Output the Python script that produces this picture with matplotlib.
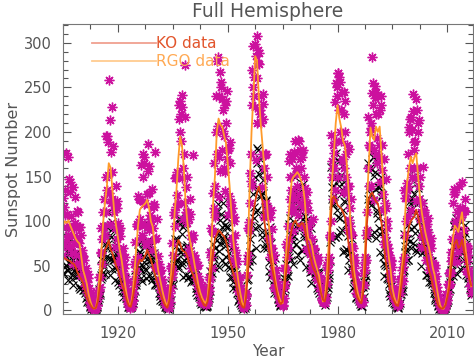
import matplotlib.pyplot as plt
from matplotlib.lines import Line2D
import numpy as np

# years covered by the record (1905 ... 2016)
years = np.arange(1905, 2017)

# smoothed RGO sunspot number, two values per year (start, middle)
rgo_smooth = [
    95, 100, 98, 101, 95, 90, 85, 80, 77, 75,
    60, 45, 38, 30, 18, 10, 4, 2, 3, 15,
    40, 68, 100, 122, 140, 165, 160, 135, 110, 95,
    82, 68, 57, 42, 28, 15, 7, 5, 18, 42,
    68, 95, 113, 116, 118, 120, 124, 115, 100, 94,
    75, 60, 45, 35, 25, 16, 9, 4, 15, 40,
    68, 110, 135, 170, 195, 185, 160, 120, 98, 82,
    72, 62, 50, 40, 28, 20, 14, 10, 8, 15,
    40, 68, 120, 150, 200, 215, 208, 206, 196, 188,
    165, 140, 110, 80, 60, 45, 30, 18, 8, 4,
    25, 68, 140, 200, 240, 285, 280, 240, 210, 185,
    161, 130, 105, 85, 65, 50, 35, 23, 15, 10,
    8, 35, 68, 100, 125, 146, 150, 152, 155, 152,
    146, 140, 125, 98, 80, 79, 72, 60, 52, 45,
    38, 20, 10, 12, 35, 68, 110, 145, 176, 210,
    230, 215, 205, 190, 185, 165, 135, 100, 72, 45,
    31, 20, 12, 10, 30, 68, 120, 161, 205, 195,
    191, 206, 200, 206, 175, 140, 110, 80, 60, 45,
    25, 15, 9, 8, 25, 45, 65, 110, 143, 160,
    172, 165, 172, 176, 150, 128, 110, 98, 87, 78,
    70, 60, 48, 40, 28, 16, 6, 2, 2, 8,
    18, 31, 60, 80, 95, 92, 88, 100, 110, 90,
    68, 52, 38, 27,
]

# smoothed KO sunspot number, two values per year
ko_smooth = [
    60, 58, 57, 56, 55, 53, 52, 48, 42, 38,
    35, 30, 22, 15, 10, 6, 3, 2, 3, 10,
    25, 40, 55, 68, 72, 79, 68, 64, 57, 50,
    45, 38, 30, 25, 18, 10, 5, 4, 12, 25,
    40, 52, 57, 55, 58, 62, 68, 62, 57, 50,
    42, 35, 28, 20, 14, 9, 5, 3, 10, 25,
    40, 55, 68, 79, 75, 68, 66, 65, 60, 52,
    45, 40, 35, 28, 20, 14, 10, 6, 5, 10,
    25, 45, 65, 80, 85, 90, 88, 85, 83, 78,
    70, 57, 50, 42, 35, 25, 15, 8, 4, 3,
    15, 40, 70, 95, 110, 122, 132, 139, 130, 122,
    100, 85, 72, 62, 50, 40, 28, 18, 10, 7,
    10, 25, 45, 65, 80, 92, 98, 101, 96, 94,
    97, 98, 92, 82, 70, 62, 52, 46, 42, 35,
    28, 19, 12, 10, 20, 40, 90, 125, 128, 124,
    118, 116, 114, 110, 105, 90, 75, 60, 45, 32,
    20, 14, 10, 8, 20, 45, 95, 124, 130, 132,
    126, 122, 120, 110, 98, 80, 60, 45, 30, 20,
    14, 10, 6, 5, 14, 30, 50, 65, 80, 94,
    100, 103, 105, 113, 105, 95, 85, 75, 68, 55,
    45, 38, 28, 20, 12, 6, 3, 2, 3, 6,
    15, 25, 45, 65, 75, 79, 70, 72, 79, 68,
    57, 45, 35, 28,
]

# RGO individual values, four per year, first set (one group per year)
rgo_points = [
    126, 73, 107, 176,   80, 172, 95, 144,   106, 64, 138, 83,   74, 98, 62, 111,
    110, 76, 49, 84,     68, 39, 57, 44,     27, 48, 32, 41,     16, 10, 21, 13,
    4, 1, 6, 2,          3, 6, 14, 22,       38, 64, 52, 95,     125, 85, 150, 110,
    135, 189, 258, 213,  178, 125, 184, 118, 92, 140, 80, 115,   98, 56, 83, 64,
    40, 70, 48, 60,      25, 15, 33, 20,     5, 3, 9, 4,         12, 28, 35, 58,
    95, 60, 125, 96,     103, 163, 85, 150,  172, 120, 77, 131,  156, 90, 162, 102,
    78, 136, 92, 116,    178, 48, 102, 61,   52, 30, 44, 34,     16, 28, 19, 24,
    7, 4, 9, 3,          10, 25, 48, 38,     62, 110, 95, 150,   155, 120, 215, 200,
    220, 241, 228, 160,  175, 275, 110, 150, 110, 70, 125, 84,   80, 55, 174, 62,
    58, 38, 50, 33,      20, 32, 22, 27,     14, 8, 18, 10,      6, 9, 14, 22,
    35, 60, 48, 88,      110, 165, 140, 200, 175, 284, 240, 267, 256, 180, 225, 160,
    230, 155, 210, 170,  180, 128, 165, 110, 115, 75, 100, 68,   62, 40, 55, 36,
    28, 18, 25, 14,      5, 3, 8, 6,         18, 40, 62, 90,     120, 175, 230, 250,
    240, 299, 285, 260,  308, 277, 288, 220, 240, 175, 215, 160, 175, 120, 150, 110,
    110, 80, 105, 70,    70, 45, 62, 40,     35, 22, 30, 18,     14, 8, 12, 9,
    6, 14, 30, 45,       60, 95, 80, 125,    150, 110, 170, 130,  178, 125, 160, 140,
    191, 130, 170, 120,  160, 178, 115, 150, 130, 90, 120, 85,   95, 65, 100, 70,
    80, 52, 70, 50,      55, 38, 60, 40,     35, 22, 18, 12,     9, 14, 8, 15,
    30, 45, 60, 85,      100, 150, 125, 185, 160, 234, 190, 240, 266, 225, 256, 190,
    245, 170, 220, 160,  200, 150, 185, 140, 140, 95, 125, 85,   70, 48, 60, 40,
    32, 20, 26, 16,      12, 8, 14, 10,      28, 45, 60, 85,     110, 160, 140, 200,
    210, 284, 230, 180,  251, 175, 220, 165, 240, 185, 225, 170, 185, 130, 170, 120,
    115, 75, 100, 65,    62, 42, 55, 35,     25, 15, 20, 12,     8, 5, 11, 7,
    20, 30, 45, 55,      60, 85, 100, 135,   140, 175, 206, 160, 217, 150, 243, 180,
    190, 237, 160, 200,  213, 125, 150, 110, 120, 85, 110, 80,   95, 68, 88, 60,
    75, 52, 70, 48,      52, 35, 48, 30,     26, 18, 14, 10,     5, 2, 3, 1,
    2, 4, 7, 12,         18, 28, 30, 42,     55, 80, 120, 136,   100, 75, 110, 85,
    85, 105, 78, 115,    144, 110, 90, 125,  70, 55, 62, 45,     38, 28, 30, 22,
]

# RGO individual values, second set (in between the first)
rgo_points_b = [
    62, 116, 135, 94,    108, 85, 71, 147,   133, 92, 72, 52,    64, 127, 92, 78,
    77, 53, 94, 94,      39, 62, 61, 39,     42, 29, 21, 36,     25, 14, 8, 4,
    3, 5, 2, 2,          3, 6, 19, 38,       26, 65, 92, 80,     110, 94, 85, 196,
    196, 152, 132, 97,   120, 228, 155, 122, 110, 71, 119, 123,  53, 90, 92, 59,
    63, 42, 29, 52,      39, 21, 12, 7,      5, 9, 6, 11,        18, 21, 52, 77,
    44, 97, 128, 99,     124, 97, 81, 175,   165, 119, 96, 73,   93, 186, 132, 107,
    100, 68, 117, 119,   49, 80, 81, 49,     50, 34, 24, 45,     35, 20, 13, 7,
    7, 9, 5, 10,         15, 19, 50, 76,     44, 107, 148, 116,  148, 129, 119, 230,
    235, 190, 148, 103,  120, 217, 138, 109, 98, 63, 102, 108,   47, 80, 84, 53,
    55, 38, 28, 51,      39, 24, 16, 10,     10, 19, 12, 9,      8, 8, 19, 38,
    26, 65, 92, 89,      132, 115, 105, 240, 280, 207, 172, 127, 156, 250, 237, 201,
    196, 134, 235, 246,  107, 182, 189, 119, 121, 81, 56, 105,   84, 52, 36, 22,
    22, 37, 21, 13,      8, 4, 5, 20,        16, 55, 92, 99,     154, 145, 140, 270,
    296, 262, 228, 169,  210, 292, 276, 225, 210, 138, 231, 242, 105, 174, 175, 111,
    115, 81, 60, 112,    91, 57, 40, 25,     26, 45, 26, 19,     15, 8, 12, 13,
    5, 25, 47, 48,       75, 71, 70, 168,    175, 135, 117, 89,  112, 190, 175, 153,
    155, 107, 190, 180,  95, 172, 180, 125,  137, 94, 69, 133,   112, 79, 63, 45,
    54, 102, 69, 56,     52, 34, 56, 57,     25, 35, 27, 14,     11, 9, 8, 35,
    49, 51, 54, 53,      82, 197, 167, 160,  176, 135, 255, 250, 150, 266, 262, 200,
    225, 167, 133, 245,  235, 175, 132, 90,  101, 181, 115, 86,  72, 41, 56, 53,
    20, 30, 27, 15,      13, 9, 7, 30,       42, 49, 54, 56,     90, 217, 185, 183,
    205, 140, 244, 255,  124, 238, 245, 193, 220, 173, 144, 240, 230, 157, 112, 75,
    82, 147, 92, 70,     60, 36, 56, 49,     16, 24, 20, 11,     10, 7, 6, 24,
    35, 35, 36, 33,      49, 135, 126, 126,  143, 106, 200, 215, 112, 202, 223, 160,
    189, 148, 123, 225,  210, 139, 102, 71,  82, 161, 113, 92,   87, 57, 97, 104,
    45, 78, 81, 51,      53, 37, 28, 51,     39, 22, 13, 7,      4, 6, 2, 2,
    2, 4, 10, 18,        12, 30, 42, 43,     66, 60, 56, 130,    133, 93, 74, 54,
    66, 140, 115, 105,   110, 70, 112, 111,  44, 72, 70, 43,     42, 27, 19, 40,
]

# KO individual values, four per year, first set
ko_points = [
    74, 41, 62, 50,      45, 76, 53, 64,     59, 35, 76, 49,     45, 60, 38, 65,
    58, 40, 24, 44,      41, 23, 35, 28,     20, 24, 15, 12,     10, 5, 11, 6,
    3, 1, 4, 2,          2, 5, 9, 14,        20, 35, 38, 52,     55, 75, 60, 85,
    70, 110, 95, 85,     82, 46, 92, 60,     48, 73, 51, 62,     48, 28, 58, 38,
    25, 34, 21, 36,      20, 14, 8, 15,      5, 3, 4, 6,         8, 15, 22, 32,
    38, 55, 48, 66,      62, 36, 78, 50,     54, 72, 45, 78,     94, 65, 39, 72,
    68, 38, 57, 46,      30, 51, 36, 44,     26, 16, 34, 22,     11, 14, 9, 15,
    6, 4, 2, 4,          8, 12, 25, 32,      38, 60, 52, 72,     80, 50, 101, 65,
    65, 86, 54, 94,      96, 66, 40, 73,     70, 39, 59, 48,     34, 58, 41, 49,
    35, 21, 45, 29,      15, 20, 13, 22,     12, 8, 5, 9,        4, 6, 10, 14,
    22, 38, 42, 60,      62, 88, 70, 105,    79, 119, 84, 101,   108, 56, 120, 77,
    72, 96, 60, 104,     93, 64, 38, 70,     58, 32, 48, 39,     24, 41, 29, 35,
    13, 8, 17, 11,       4, 5, 3, 5,         10, 22, 35, 55,     65, 100, 88, 130,
    104, 150, 110, 165,  182, 135, 95, 170,  158, 88, 132, 107,  74, 124, 87, 106,
    74, 44, 94, 60,      41, 54, 34, 59,     33, 23, 14, 25,     10, 6, 9, 7,
    6, 14, 24, 35,       40, 62, 60, 85,     94, 56, 120, 77,    90, 120, 75, 130,
    138, 95, 57, 105,    121, 68, 102, 82,   70, 117, 83, 100,   73, 43, 92, 59,
    44, 59, 37, 64,      55, 38, 23, 42,     30, 17, 25, 20,     9, 15, 10, 13,
    15, 25, 40, 55,      80, 125, 118, 150,  139, 82, 176, 113,  105, 140, 88, 152,
    162, 112, 67, 123,   122, 69, 103, 83,   56, 95, 66, 80,     46, 27, 59, 38,
    15, 20, 13, 22,      13, 9, 5, 10,       15, 28, 40, 58,     85, 125, 120, 160,
    118, 177, 124, 151,  136, 81, 174, 112,  104, 138, 86, 150,  129, 89, 53, 98,
    65, 36, 55, 44,      20, 34, 24, 29,     13, 8, 17, 11,      5, 6, 4, 6,
    8, 18, 26, 38,       45, 65, 55, 80,     96, 57, 122, 78,    91, 121, 76, 131,
    158, 109, 65, 120,   125, 70, 105, 85,   64, 108, 76, 92,    68, 40, 87, 56,
    38, 50, 32, 55,      35, 24, 14, 26,     11, 6, 9, 8,        2, 4, 3, 2,
    2, 3, 6, 9,          12, 22, 24, 35,     45, 60, 72, 95,     62, 104, 73, 89,
    78, 46, 99, 64,      67, 89, 56, 96,     74, 51, 31, 56,     40, 22, 34, 27,
]

# KO individual values, second set
ko_points_b = [
    42, 74, 84, 51,      66, 45, 34, 74,     72, 54, 40, 29,     44, 75, 53, 43,
    42, 26, 46, 50,      25, 40, 44, 23,     25, 14, 9, 16,      13, 8, 4, 2,
    3, 3, 2, 2,          3, 4, 12, 24,       17, 40, 58, 42,     63, 49, 41, 95,
    94, 75, 59, 40,      58, 99, 70, 57,     57, 34, 60, 66,     32, 51, 55, 31,
    34, 22, 15, 28,      23, 14, 8, 4,       4, 6, 4, 8,         12, 12, 30, 45,
    28, 57, 75, 49,      66, 45, 33, 76,     75, 60, 46, 36,     58, 97, 68, 57,
    57, 34, 60, 64,      29, 48, 51, 28,     32, 19, 12, 23,     18, 11, 7, 4,
    4, 6, 3, 6,          10, 11, 30, 45,     28, 59, 80, 55,     78, 58, 47, 104,
    97, 71, 51, 37,      56, 98, 71, 59,     60, 36, 62, 67,     32, 53, 58, 33,
    40, 25, 17, 32,      26, 17, 10, 7,      8, 12, 7, 5,        5, 5, 12, 24,
    17, 44, 65, 50,      75, 58, 48, 111,    110, 87, 67, 49,    75, 129, 93, 80,
    83, 52, 94, 104,     49, 79, 83, 48,     57, 37, 25, 51,     45, 30, 19, 11,
    13, 17, 9, 6,        4, 2, 4, 13,        10, 34, 58, 50,     80, 66, 57, 138,
    143, 116, 92, 70,    112, 180, 153, 127, 130, 82, 146, 155,  70, 115, 123, 70,
    83, 54, 37, 76,      65, 45, 30, 19,     24, 35, 20, 13,     10, 5, 8, 11,
    7, 21, 36, 32,       52, 44, 39, 97,     104, 86, 69, 52,    83, 149, 111, 93,
    96, 62, 113, 133,    68, 121, 142, 86,   106, 70, 49, 103,   91, 66, 47, 31,
    44, 74, 51, 42,      42, 25, 42, 43,     20, 29, 28, 14,     14, 9, 6, 20,
    26, 30, 30, 36,      77, 161, 138, 120,  128, 82, 149, 169,  83, 146, 168, 104,
    131, 90, 66, 144,    137, 97, 68, 45,    64, 101, 66, 49,    45, 25, 38, 36,
    14, 21, 20, 11,      12, 7, 5, 19,       26, 32, 34, 39,     81, 165, 136, 121,
    130, 85, 158, 172,   88, 155, 170, 109,  138, 92, 66, 140,   127, 89, 60, 39,
    51, 78, 50, 35,      30, 16, 24, 24,     10, 15, 15, 7,      7, 4, 3, 14,
    18, 22, 23, 22,      43, 86, 72, 68,     80, 57, 113, 136,   70, 126, 149, 94,
    121, 87, 68, 147,    137, 100, 71, 50,   72, 120, 83, 67,    68, 40, 66, 70,
    32, 51, 55, 30,      32, 19, 12, 22,     16, 9, 5, 2,        3, 3, 2, 2,
    3, 3, 7, 14,         10, 25, 36, 32,     52, 44, 39, 95,     98, 77, 59, 41,
    60, 106, 79, 71,     79, 47, 82, 87,     40, 64, 65, 36,     40, 25, 17, 38,
]

t_half = np.repeat(years, 2) + np.tile([0.0, 0.5], len(years))
t_quarter = np.repeat(years, 4) + np.tile([0.125, 0.375, 0.625, 0.875], len(years))
t_quarter_b = np.repeat(years, 4) + np.tile([0.0, 0.25, 0.5, 0.75], len(years))

grey = "#555555"
plt.rcParams["font.family"] = "DejaVu Sans"
plt.rcParams["text.color"] = grey
plt.rcParams["axes.labelcolor"] = grey
plt.rcParams["xtick.color"] = grey
plt.rcParams["ytick.color"] = grey

fig = plt.figure(figsize=(4.74, 3.61), dpi=100)
ax = fig.add_axes([63 / 474, 1 - 314 / 361, 410 / 474, 290 / 361])

magenta = "#CC119E"
ko_style = dict(linestyle="none", marker="x", color="black",
                markersize=6, markeredgewidth=0.8)
rgo_style = dict(linestyle="none", marker=(8, 2, 0), color=magenta,
                 markersize=7, markeredgewidth=1.0)
ax.plot(t_quarter, ko_points, **ko_style)
ax.plot(t_quarter_b, ko_points_b, **ko_style)
ax.plot(t_quarter, rgo_points, **rgo_style)
ax.plot(t_quarter_b, rgo_points_b, **rgo_style)
ax.plot(t_half, rgo_smooth, color="#FF9A2A", linewidth=1.3)
ax.plot(t_half, ko_smooth, color="#DD4010", linewidth=1.3)

ax.set_xlim(1905, 2017)
ax.set_ylim(-4, 321)
ax.set_xticks([1920, 1950, 1980, 2010])
ax.set_xticks(np.arange(1905, 2017, 7.5), minor=True)
ax.set_yticks(np.arange(0, 301, 50))
ax.set_yticks(np.arange(0, 321, 10), minor=True)
ax.tick_params(which="both", direction="in", top=True, right=True,
               labelsize=10.5, width=0.8)
ax.tick_params(axis="x", pad=9)
ax.tick_params(axis="y", pad=8)
ax.tick_params(which="major", length=6)
ax.tick_params(which="minor", length=3.5)
for s in ax.spines.values():
    s.set_color("#777777")
    s.set_linewidth(0.8)

ax.set_xlabel("Year", fontsize=11, labelpad=2)
ax.set_ylabel("Sunspot Number", fontsize=11.5, labelpad=2)
ax.set_title("Full Hemisphere", fontsize=13.5, pad=5)

handles = [Line2D([], [], color="#F0A090", linewidth=1.3),
           Line2D([], [], color="#FFCC90", linewidth=1.3)]
leg = ax.legend(handles, ["KO data", "RGO data"], loc="upper left",
                bbox_to_anchor=(0.045, 0.995), frameon=False, fontsize=11,
                handlelength=4.2, handletextpad=0.0, labelspacing=0.2,
                borderpad=0.2)
leg.get_texts()[0].set_color("#E2552C")
leg.get_texts()[1].set_color("#FFAA55")

fig.savefig("out.png", dpi=100)
